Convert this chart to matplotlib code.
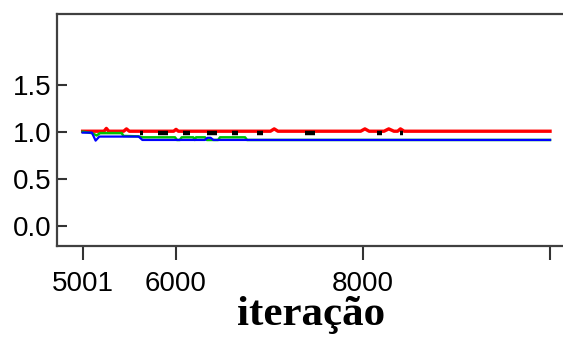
# BGR convergence plot (red = ratio, green = pooled, blue = within)
import matplotlib
matplotlib.use('Agg')
import matplotlib.pyplot as plt

# x tick positions and labels
x_ticks = [5001, 6000, 8000, 10000]
x_tick_labels = ['5001', '6000', '8000', '']
y_ticks = [0.0, 0.5, 1.0, 1.5]
y_tick_labels = ['0.0', '0.5', '1.0', '1.5']

# red series
red_iter = [5001, 5230, 5255, 5280, 5440, 5470, 5500, 5975, 6000, 6025,
            7010, 7050, 7090, 7975, 8020, 8065, 8225, 8275, 8330, 8370,
            8400, 8440, 10000]
red_val = [1.005, 1.005, 1.035, 1.005, 1.005, 1.03, 1.005, 1.005, 1.025, 1.005,
           1.005, 1.03, 1.005, 1.005, 1.03, 1.005, 1.005, 1.03, 1.005, 1.005,
           1.03, 1.005, 1.005]

# black segments (start, end) just under the red line
black_start = [5615, 5811, 6078, 6328, 6596, 6863, 7380, 8146, 8396]
black_end = [5650, 5918, 6150, 6435, 6666, 6934, 7487, 8200, 8431]
black_level = 0.982

# green series
green_iter = [5001, 5100, 5152, 5187, 5419, 5437, 5600, 5633, 5989, 6010,
              6040, 6061, 6185, 6200, 6214, 6310, 6330, 6450, 6470, 6738,
              6760, 10000]
green_val = [1.0, 0.985, 0.96, 0.985, 0.985, 0.955, 0.95, 0.94, 0.94, 0.912,
             0.912, 0.94, 0.94, 0.912, 0.94, 0.94, 0.912, 0.912, 0.94, 0.94,
             0.912, 0.912]

# blue series
blue_iter = [5001, 5100, 5140, 5180, 5600, 5640, 6310, 6335, 6370, 6400, 10000]
blue_val = [0.99, 0.99, 0.905, 0.948, 0.948, 0.912, 0.912, 0.935, 0.935, 0.912, 0.912]

fig = plt.figure(figsize=(5.63, 3.38), dpi=100)
ax = fig.add_axes([57 / 563, 92 / 338, 508 / 563, 232 / 338])

ax.plot(red_iter, red_val, color='#ff0000', lw=2.4, zorder=2)
ax.hlines([black_level] * len(black_start), black_start, black_end,
          color='black', lw=3.2, zorder=3)
ax.plot(green_iter, green_val, color='#00c000', lw=1.8, zorder=4)
ax.plot(blue_iter, blue_val, color='#0000ff', lw=1.6, zorder=5)

ax.set_xlim(4727, 10160)
ax.set_ylim(-0.216, 2.252)

ax.set_xticks(x_ticks)
ax.set_xticklabels(x_tick_labels, family='Liberation Sans', fontsize=20)
ax.set_yticks(y_ticks)
ax.set_yticklabels(y_tick_labels, family='Liberation Sans', fontsize=20)

ax.tick_params(axis='x', direction='out', length=10, width=1.5,
               color='#333333', pad=8)
ax.tick_params(axis='y', direction='in', length=7, width=1.5,
               color='#333333', pad=4)

for side in ['left', 'bottom', 'top']:
    ax.spines[side].set_color('#404040')
    ax.spines[side].set_linewidth(1.6)
ax.spines['right'].set_visible(False)

ax.set_xlabel('iteração', family='Liberation Serif', fontweight='bold',
              fontsize=31, labelpad=-1)

fig.savefig('out.png', dpi=100)
